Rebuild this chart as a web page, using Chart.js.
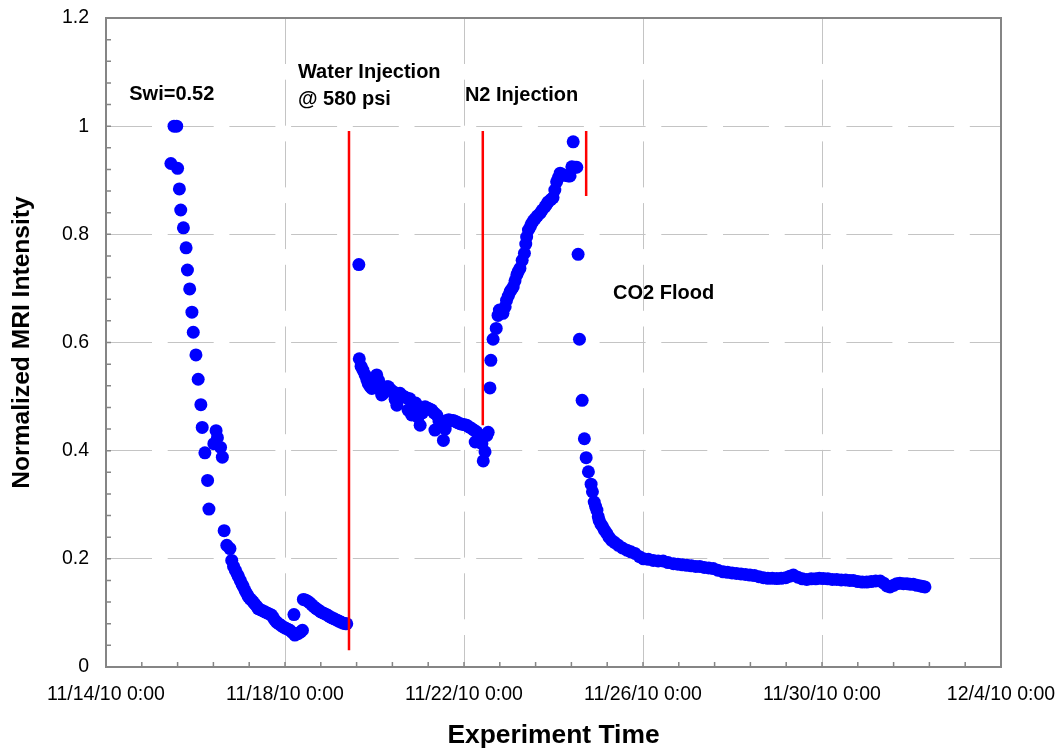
<!doctype html>
<html lang="en">

<head>
    <meta charset="utf-8">
    <title>Normalized MRI Intensity vs Experiment Time</title>
    <script src="https://cdn.jsdelivr.net/npm/chart.js@4/dist/chart.umd.min.js"></script>
    <style>
        body { margin: 0; background: #fff; }
        #wrap { width: 1057px; height: 750px; position: relative; }
    </style>
</head>

<body>

    <div id="wrap"><canvas id="chart"></canvas></div>

    <script>
        // x = days since 11/14/10 0:00, y = normalized MRI intensity
        var elapsedDays = [
            1.45, 1.52, 1.58, 1.60, 1.64, 1.67, 1.73, 1.79, 1.82, 1.87, 1.92, 1.95, 2.01, 2.06, 2.12, 2.15,
            2.21, 2.27, 2.30, 2.41, 2.46, 2.49, 2.56, 2.60, 2.64, 2.70, 2.77, 2.81, 2.85, 2.89, 2.93, 2.96,
            3.00, 3.04, 3.07, 3.11, 3.15, 3.18, 3.22, 3.26, 3.29, 3.33, 3.37, 3.40, 3.45, 3.50, 3.55, 3.60,
            3.65, 3.70, 3.74, 3.78, 3.81, 3.86, 3.91, 3.96, 4.01, 4.06, 4.11, 4.16, 4.20, 4.22, 4.26, 4.30,
            4.35, 4.39,
            4.41, 4.45, 4.50, 4.55, 4.60, 4.65, 4.70, 4.75, 4.80, 4.85, 4.90, 4.95, 5.00, 5.05, 5.10, 5.15,
            5.20, 5.25, 5.30, 5.35, 5.38,
            5.65, 5.66, 5.70, 5.74, 5.79, 5.83, 5.86, 5.90, 5.94, 5.98, 6.02, 6.05, 6.09, 6.13, 6.16, 6.20,
            6.24, 6.28, 6.31, 6.36, 6.42, 6.46, 6.50, 6.54, 6.57, 6.62, 6.68, 6.73, 6.75, 6.79, 6.83, 6.87,
            6.92, 6.97, 7.02, 7.07, 7.13, 7.18, 7.23, 7.28, 7.33, 7.35, 7.39, 7.44, 7.49, 7.54, 7.58, 7.61,
            7.66, 7.71, 7.76, 7.81, 7.86, 7.91, 7.96, 8.01, 8.06, 8.11, 8.17, 8.22, 8.25, 8.28, 8.33, 8.37,
            8.40, 8.43, 8.47, 8.51, 8.54,
            8.58, 8.60, 8.65, 8.72, 8.76, 8.79, 8.83, 8.87, 8.92, 8.95, 8.99, 9.03, 9.06, 9.10, 9.14, 9.18,
            9.21, 9.25, 9.30, 9.35, 9.38, 9.40, 9.44, 9.48, 9.51, 9.55, 9.59, 9.64, 9.70, 9.75, 9.81, 9.85,
            9.88, 9.94, 9.99, 10.03, 10.07, 10.11, 10.15, 10.20, 10.27, 10.33, 10.37, 10.41, 10.44, 10.48, 10.52,
            10.55, 10.58, 10.64, 10.69, 10.73, 10.78, 10.84, 10.87, 10.91, 10.94, 10.97, 11.00, 11.02, 11.06,
            11.10, 11.14, 11.19, 11.24, 11.30, 11.37, 11.45, 11.54, 11.64, 11.73, 11.82, 11.92, 12.01, 12.12,
            12.23, 12.34, 12.45, 12.56, 12.68, 12.78, 12.88, 12.98, 13.08, 13.18, 13.27, 13.37, 13.47, 13.57,
            13.67, 13.79, 13.89, 13.99, 14.09, 14.19, 14.29, 14.39, 14.49, 14.59, 14.69, 14.79, 14.89, 14.99,
            15.09, 15.19, 15.28, 15.36, 15.46, 15.56, 15.66, 15.76, 15.86, 15.94, 16.03, 16.13, 16.23, 16.33,
            16.43, 16.53, 16.62, 16.70, 16.80, 16.90, 17.00, 17.10, 17.20, 17.30, 17.38, 17.45, 17.52, 17.60,
            17.67, 17.74, 17.82, 17.90, 17.97, 18.04, 18.12, 18.20, 18.25, 18.30
        ];
        var intensity = [
            0.931, 1.000, 1.000, 0.922, 0.884, 0.845, 0.812, 0.775, 0.734, 0.699, 0.656, 0.619, 0.577, 0.532, 0.485, 0.443,
            0.396, 0.345, 0.292, 0.413, 0.437, 0.424, 0.406, 0.388, 0.252, 0.225, 0.219, 0.197, 0.186, 0.179, 0.172, 0.167,
            0.160, 0.153, 0.148, 0.141, 0.135, 0.130, 0.126, 0.123, 0.120, 0.116, 0.112, 0.108, 0.106, 0.104, 0.102, 0.100,
            0.098, 0.096, 0.091, 0.086, 0.083, 0.080, 0.077, 0.074, 0.072, 0.070, 0.068, 0.064, 0.097, 0.059, 0.061, 0.062,
            0.065, 0.068,
            0.125, 0.124, 0.122, 0.119, 0.115, 0.111, 0.108, 0.105, 0.102, 0.100, 0.098, 0.096, 0.093, 0.091, 0.089, 0.087,
            0.085, 0.083, 0.081, 0.080, 0.080,
            0.744, 0.570, 0.556, 0.549, 0.540, 0.531, 0.524, 0.519, 0.515, 0.527, 0.535, 0.540, 0.530, 0.512, 0.503, 0.506,
            0.512, 0.518, 0.518, 0.513, 0.509, 0.495, 0.484, 0.500, 0.506, 0.502, 0.499, 0.497, 0.475, 0.496, 0.466, 0.472,
            0.488, 0.462, 0.447, 0.470, 0.481, 0.479, 0.477, 0.475, 0.470, 0.438, 0.466, 0.455, 0.445, 0.419, 0.440, 0.456,
            0.457, 0.456, 0.456, 0.454, 0.452, 0.450, 0.449, 0.448, 0.447, 0.444, 0.441, 0.438, 0.416, 0.435, 0.430, 0.422,
            0.413, 0.381, 0.398, 0.428, 0.434,
            0.516, 0.567, 0.606, 0.626, 0.650, 0.660, 0.657, 0.654, 0.666, 0.678, 0.686, 0.694, 0.698, 0.703, 0.714, 0.725,
            0.731, 0.737, 0.752, 0.765, 0.782, 0.795, 0.808, 0.814, 0.820, 0.825, 0.829, 0.834, 0.839, 0.845, 0.851, 0.856,
            0.860, 0.864, 0.868, 0.882, 0.897, 0.905, 0.913, 0.910, 0.909, 0.908, 0.908, 0.925, 0.971, 0.924, 0.924,
            0.763, 0.606, 0.493, 0.422, 0.387, 0.361, 0.338, 0.324, 0.305, 0.297, 0.290, 0.278, 0.271, 0.264,
            0.259, 0.253, 0.247, 0.240, 0.234, 0.230, 0.225, 0.220, 0.216, 0.213, 0.210, 0.204, 0.200, 0.199,
            0.197, 0.196, 0.196, 0.193, 0.191, 0.190, 0.189, 0.188, 0.187, 0.186, 0.186, 0.184, 0.183, 0.182,
            0.179, 0.176, 0.175, 0.174, 0.173, 0.172, 0.171, 0.170, 0.169, 0.167, 0.165, 0.164, 0.164, 0.1635,
            0.164, 0.165, 0.168, 0.170, 0.166, 0.163, 0.162, 0.163, 0.163, 0.164, 0.1635, 0.163, 0.162, 0.162,
            0.161, 0.161, 0.160, 0.160, 0.158, 0.157, 0.157, 0.158, 0.159, 0.159, 0.155, 0.150, 0.148, 0.151,
            0.154, 0.155, 0.154, 0.154, 0.153, 0.153, 0.151, 0.150, 0.149, 0.148
        ];

        // red event markers: day, top and bottom of each line
        var markerDay = [5.43, 8.42, 10.73];
        var markerTop = [0.991, 0.991, 0.991];
        var markerBottom = [0.031, 0.447, 0.871];

        var noteText = ['Swi=0.52', 'Water Injection', '@ 580 psi', 'N2 Injection', 'CO2 Flood'];
        var noteDay = [0.52, 4.29, 4.29, 8.02, 11.33];
        var noteLevel = [1.058, 1.099, 1.050, 1.056, 0.691];

        var xTickLabels = ['11/14/10 0:00', '11/18/10 0:00', '11/22/10 0:00', '11/26/10 0:00', '11/30/10 0:00', '12/4/10 0:00'];
        var yTickLabels = ['0', '0.2', '0.4', '0.6', '0.8', '1', '1.2'];

        var FONT = '"Liberation Sans", Arial, sans-serif';

        var points = [];
        for (var i = 0; i < elapsedDays.length; i++) {
            points.push({ x: elapsedDays[i], y: intensity[i] });
        }

        var datasets = [];
        for (var k = 0; k < markerDay.length; k++) {
            datasets.push({
                type: 'scatter',
                data: [{ x: markerDay[k], y: markerTop[k] }, { x: markerDay[k], y: markerBottom[k] }],
                showLine: true,
                borderColor: '#ff0000',
                borderWidth: 2.5,
                pointRadius: 0,
                order: 0
            });
        }
        datasets.push({
            type: 'scatter',
            data: points,
            backgroundColor: '#0000ff',
            borderWidth: 0,
            pointRadius: 6.5,
            pointHoverRadius: 6.5,
            order: 1
        });

        function isMajor(v, step) {
            var r = v / step;
            return Math.abs(r - Math.round(r)) < 1e-6;
        }

        // frame, inward tick marks and the text notes
        var decorations = {
            id: 'decorations',
            beforeDatasetsDraw: function (chart) {
                var ctx = chart.ctx, a = chart.chartArea;
                var xs = chart.scales.x, ys = chart.scales.y;
                ctx.save();
                ctx.strokeStyle = '#858585';
                ctx.lineWidth = 1.5;
                ctx.beginPath();
                xs.ticks.forEach(function (t) {
                    var p = xs.getPixelForValue(t.value);
                    ctx.moveTo(p, a.bottom);
                    ctx.lineTo(p, a.bottom - 5);
                });
                ys.ticks.forEach(function (t) {
                    var p = ys.getPixelForValue(t.value);
                    ctx.moveTo(a.left, p);
                    ctx.lineTo(a.left + 5, p);
                });
                ctx.stroke();
                ctx.lineWidth = 2;
                ctx.strokeRect(a.left, a.top, a.right - a.left, a.bottom - a.top);
                ctx.restore();
            },
            afterDraw: function (chart) {
                var ctx = chart.ctx;
                var xs = chart.scales.x, ys = chart.scales.y;
                ctx.save();
                ctx.fillStyle = '#000';
                ctx.font = 'bold 20px ' + FONT;
                ctx.textAlign = 'left';
                ctx.textBaseline = 'middle';
                for (var n = 0; n < noteText.length; n++) {
                    ctx.fillText(noteText[n], xs.getPixelForValue(noteDay[n]), ys.getPixelForValue(noteLevel[n]));
                }
                ctx.restore();
            }
        };

        new Chart(document.getElementById('chart').getContext('2d'), {
            type: 'scatter',
            data: { datasets: datasets },
            plugins: [decorations],
            options: {
                responsive: true,
                maintainAspectRatio: false,
                animation: false,
                events: [],
                layout: { padding: { top: 18, right: 56, left: 0, bottom: 0 } },
                plugins: { legend: { display: false }, tooltip: { enabled: false } },
                scales: {
                    x: {
                        type: 'linear',
                        min: 0,
                        max: 20,
                        afterFit: function (s) {
                            s.height = 83;
                            s.paddingLeft = 0;
                            s.paddingRight = 0;
                        },
                        ticks: {
                            stepSize: 0.8,
                            autoSkip: false,
                            maxRotation: 0,
                            minRotation: 0,
                            padding: 16,
                            color: '#000',
                            font: { family: FONT, size: 19.5 },
                            callback: function (v) {
                                return isMajor(v, 4) ? xTickLabels[Math.round(v / 4)] : '';
                            }
                        },
                        grid: {
                            drawTicks: false,
                            lineWidth: 1,
                            color: function (c) {
                                return c.tick && isMajor(c.tick.value, 4) ? '#c4c4c4' : 'rgba(0,0,0,0)';
                            }
                        },
                        border: { display: false, dash: [46, 15.7] },
                        title: {
                            display: true,
                            text: 'Experiment Time',
                            color: '#000',
                            font: { family: FONT, size: 26.4, weight: 'bold', lineHeight: 1.1 },
                            padding: { top: 0, bottom: 0 }
                        }
                    },
                    y: {
                        min: 0,
                        max: 1.2,
                        afterFit: function (s) {
                            s.width = 106;
                            s.paddingTop = 0;
                            s.paddingBottom = 0;
                        },
                        ticks: {
                            stepSize: 0.04,
                            autoSkip: false,
                            padding: 17,
                            color: '#000',
                            font: { family: FONT, size: 19.5 },
                            callback: function (v) {
                                return isMajor(v, 0.2) ? yTickLabels[Math.round(v / 0.2)] : '';
                            }
                        },
                        grid: {
                            drawTicks: false,
                            lineWidth: 1,
                            color: function (c) {
                                return c.tick && isMajor(c.tick.value, 0.2) ? '#c4c4c4' : 'rgba(0,0,0,0)';
                            }
                        },
                        border: { display: false, dash: [46, 15.7] },
                        title: {
                            display: true,
                            text: 'Normalized MRI Intensity',
                            color: '#000',
                            font: { family: FONT, size: 24.6, weight: 'bold', lineHeight: 1.2 },
                            padding: { top: 7, bottom: 0 }
                        }
                    }
                }
            }
        });
    </script>

</body>

</html>
